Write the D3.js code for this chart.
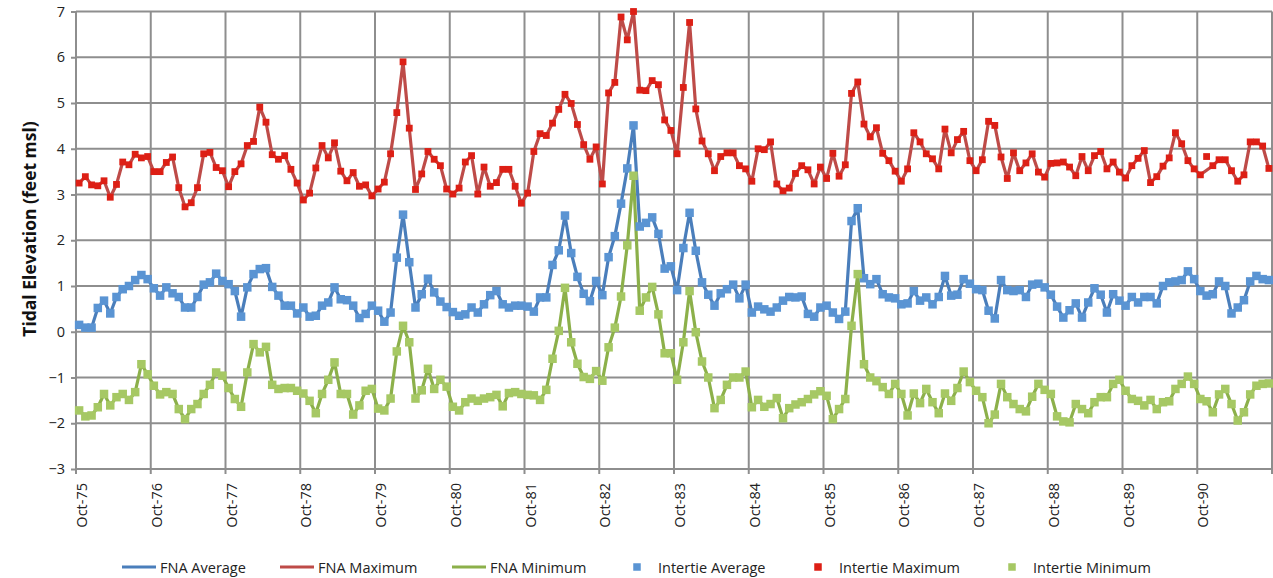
<!DOCTYPE html>
<html>
<head>
<meta charset="utf-8">
<script src="https://cdn.jsdelivr.net/npm/d3@7"></script>
<style>
  html, body { margin: 0; padding: 0; background: #fff; }
  svg { display: block; font-family: "Open Sans", "DejaVu Sans", sans-serif; }
</style>
</head>
<body>
<svg id="chart" width="1273" height="578"></svg>
<script>
// Monthly categories, Oct 1975 through Sep 1991
const months = d3.timeMonth.range(new Date(1975, 9, 1), new Date(1991, 9, 1));
const tickLabels = ["Oct-75","Oct-76","Oct-77","Oct-78","Oct-79","Oct-80","Oct-81","Oct-82",
                    "Oct-83","Oct-84","Oct-85","Oct-86","Oct-87","Oct-88","Oct-89","Oct-90"];
const yTicks = [-3, -2, -1, 0, 1, 2, 3, 4, 5, 6, 7];

// Monthly tidal elevations, feet msl
const fnaMaximum = [
  3.25,3.39,3.21,3.19,3.30,2.94,3.22,3.71,3.65,3.88,3.80,3.83,
  3.50,3.50,3.70,3.82,3.15,2.73,2.82,3.15,3.89,3.92,3.59,3.52,
  3.17,3.50,3.67,4.07,4.16,4.91,4.58,3.87,3.77,3.85,3.55,3.25,
  2.88,3.03,3.58,4.07,3.80,4.13,3.51,3.30,3.48,3.18,3.21,2.97,
  3.12,3.27,3.89,4.79,5.90,4.45,3.11,3.45,3.94,3.77,3.63,3.12,
  3.01,3.14,3.71,3.85,3.01,3.60,3.18,3.26,3.55,3.55,3.18,2.81,
  3.03,3.94,4.33,4.29,4.56,4.86,5.19,4.99,4.53,4.09,3.77,4.04,
  3.23,5.22,5.45,6.88,6.38,7.00,5.28,5.27,5.49,5.40,4.63,4.40,
  3.89,5.34,6.76,4.87,4.17,3.89,3.52,3.83,3.91,3.91,3.63,3.56,
  3.29,4.00,3.98,4.15,3.23,3.08,3.14,3.46,3.63,3.54,3.23,3.60,
  3.35,3.90,3.40,3.65,5.21,5.46,4.54,4.26,4.46,3.90,3.74,3.51,
  3.29,3.56,4.35,4.15,3.89,3.78,3.56,4.43,3.91,4.20,4.38,3.74,
  3.52,3.76,4.60,4.51,3.82,3.35,3.91,3.52,3.69,3.89,3.49,3.38,
  3.68,3.69,3.71,3.60,3.41,3.83,3.52,3.85,3.94,3.56,3.71,3.49,
  3.36,3.63,3.79,3.96,3.26,3.39,3.62,3.80,4.35,4.11,3.74,3.56,
  3.43,3.53,3.63,3.76,3.76,3.52,3.29,3.43,4.15,4.15,4.06,3.57
];
const fnaAverage = [
  0.15,0.09,0.09,0.52,0.68,0.40,0.76,0.93,1.00,1.13,1.24,1.15,
  0.95,0.79,0.97,0.84,0.76,0.53,0.53,0.76,1.03,1.08,1.27,1.11,
  1.04,0.89,0.33,0.97,1.26,1.37,1.39,0.98,0.79,0.57,0.57,0.40,
  0.53,0.33,0.35,0.57,0.64,0.97,0.71,0.69,0.57,0.30,0.39,0.57,
  0.46,0.22,0.42,1.62,2.56,1.52,0.53,0.82,1.16,0.86,0.66,0.54,
  0.43,0.35,0.38,0.53,0.42,0.60,0.80,0.89,0.60,0.53,0.57,0.57,
  0.55,0.44,0.75,0.75,1.46,1.78,2.54,1.72,1.20,0.83,0.67,1.11,
  0.80,1.63,2.09,2.80,3.57,4.51,2.30,2.38,2.50,2.14,1.38,1.43,
  0.91,1.83,2.60,1.77,1.08,0.81,0.57,0.84,0.93,1.03,0.73,1.03,
  0.42,0.55,0.49,0.44,0.53,0.68,0.76,0.75,0.77,0.39,0.33,0.53,
  0.57,0.42,0.28,0.44,2.42,2.70,1.17,1.04,1.15,0.82,0.75,0.73,
  0.60,0.62,0.89,0.68,0.75,0.60,0.76,1.22,0.79,0.81,1.15,1.05,
  0.93,0.91,0.46,0.29,1.13,0.91,0.89,0.91,0.76,1.03,1.05,0.97,
  0.81,0.55,0.31,0.47,0.62,0.31,0.64,0.95,0.81,0.42,0.82,0.68,
  0.57,0.76,0.64,0.76,0.76,0.62,1.00,1.08,1.10,1.13,1.32,1.15,
  0.89,0.79,0.82,1.10,1.00,0.40,0.53,0.69,1.10,1.22,1.15,1.13
];
const fnaMinimum = [
  -1.72,-1.85,-1.83,-1.65,-1.36,-1.61,-1.43,-1.36,-1.49,-1.32,-0.71,-0.93,
  -1.18,-1.37,-1.32,-1.36,-1.69,-1.91,-1.69,-1.58,-1.36,-1.16,-0.89,-0.96,
  -1.23,-1.47,-1.64,-0.89,-0.27,-0.45,-0.33,-1.16,-1.25,-1.23,-1.23,-1.29,
  -1.35,-1.51,-1.78,-1.36,-1.05,-0.67,-1.36,-1.36,-1.81,-1.61,-1.29,-1.25,
  -1.68,-1.72,-1.46,-0.43,0.13,-0.23,-1.46,-1.28,-0.81,-1.25,-1.05,-1.20,
  -1.64,-1.72,-1.54,-1.46,-1.51,-1.46,-1.43,-1.38,-1.63,-1.34,-1.32,-1.36,
  -1.38,-1.39,-1.49,-1.27,-0.59,0.02,0.96,-0.23,-0.70,-0.99,-1.03,-0.86,
  -1.07,-0.34,0.09,0.77,1.89,3.41,0.46,0.75,0.98,0.38,-0.47,-0.47,
  -1.05,-0.23,0.89,-0.01,-0.65,-1.00,-1.67,-1.49,-1.16,-1.00,-1.00,-0.87,
  -1.65,-1.49,-1.64,-1.58,-1.45,-1.89,-1.67,-1.59,-1.54,-1.47,-1.37,-1.30,
  -1.40,-1.91,-1.69,-1.47,0.13,1.26,-0.71,-1.00,-1.08,-1.21,-1.36,-1.14,
  -1.36,-1.83,-1.35,-1.56,-1.25,-1.54,-1.78,-1.35,-1.51,-1.23,-0.87,-1.10,
  -1.29,-1.43,-2.00,-1.81,-1.14,-1.43,-1.58,-1.69,-1.74,-1.42,-1.14,-1.27,
  -1.36,-1.85,-1.96,-1.98,-1.58,-1.69,-1.78,-1.54,-1.43,-1.43,-1.14,-1.05,
  -1.29,-1.47,-1.51,-1.61,-1.49,-1.69,-1.54,-1.52,-1.25,-1.14,-0.98,-1.14,
  -1.47,-1.52,-1.76,-1.37,-1.25,-1.58,-1.94,-1.76,-1.37,-1.18,-1.14,-1.13
];

// Intertie gauge record: same months; it differs from FNA only in the Nov-90 maximum
const intertieAverage = fnaAverage;
const intertieMinimum = fnaMinimum;
const intertieMaximumNov90 = 3.83;
const intertieMaximum = fnaMaximum.map((v, i) => (i === 181 ? intertieMaximumNov90 : v));

const svg = d3.select("#chart");
const margin = { left: 76, right: 1272, top: 11.5, bottom: 469 };

const x = d3.scaleLinear().domain([0, months.length]).range([margin.left, margin.right]);
const y = d3.scaleLinear().domain([-3, 7]).range([margin.bottom, margin.top]);
const cx = i => x(i + 0.5);

const gridColor = "#8e8e8e";

// Horizontal gridlines + y axis
const yAxis = d3.axisLeft(y).tickValues(yTicks).tickSize(5).tickPadding(6).tickFormat(d3.format("d"));
const gy = svg.append("g").attr("transform", `translate(${margin.left},0)`).call(yAxis);
gy.select(".domain").remove();
gy.selectAll(".tick line").attr("stroke", gridColor).attr("stroke-width", 2);
gy.selectAll(".tick text").attr("font-size", 14.5).attr("fill", "#222")
  .attr("font-family", "'Open Sans', sans-serif");

svg.append("g").selectAll("line").data(yTicks).join("line")
  .attr("x1", margin.left).attr("x2", margin.right)
  .attr("y1", d => y(d)).attr("y2", d => y(d))
  .attr("stroke", gridColor).attr("stroke-width", 2);

// Vertical gridlines every October
const yearIdx = d3.range(0, months.length + 1, 12);
svg.append("g").selectAll("line").data(yearIdx).join("line")
  .attr("x1", d => x(d)).attr("x2", d => x(d))
  .attr("y1", margin.top).attr("y2", margin.bottom + 5)
  .attr("stroke", gridColor).attr("stroke-width", 2);

// X tick labels, rotated
const xAxis = d3.axisBottom(x).tickValues(yearIdx.slice(0, tickLabels.length))
  .tickSize(0).tickFormat((d, i) => tickLabels[i]);
const gx = svg.append("g").attr("transform", `translate(0,${margin.bottom})`).call(xAxis);
gx.select(".domain").remove();
gx.selectAll(".tick text")
  .attr("font-size", 14.5).attr("fill", "#222")
  .attr("font-family", "'Open Sans', sans-serif")
  .attr("text-anchor", "end")
  .attr("dy", null).attr("y", null)
  .attr("dominant-baseline", "central")
  .attr("transform", "translate(5,14) rotate(-90)");

// Y axis title
svg.append("text")
  .attr("transform", "translate(29,229) rotate(-90)")
  .attr("text-anchor", "middle")
  .attr("dominant-baseline", "central")
  .attr("font-size", 17.5).attr("font-weight", "bold").attr("fill", "#111")
  .text("Tidal Elevation (feet msl)");

const series = [
  { name: "FNA Average", values: fnaAverage, color: "#4a7ebb" },
  { name: "FNA Maximum", values: fnaMaximum, color: "#be4b48" },
  { name: "FNA Minimum", values: fnaMinimum, color: "#8cb04a" }
];
const markers = [
  { name: "Intertie Average", values: intertieAverage, color: "#5a94d3", size: 8.5 },
  { name: "Intertie Maximum", values: intertieMaximum, color: "#dd1f15", size: 6.8 },
  { name: "Intertie Minimum", values: intertieMinimum, color: "#a6c864", size: 8.5 }
];

const line = d3.line().x((d, i) => cx(i)).y(d => y(d));

svg.append("g").selectAll("path").data(series).join("path")
  .attr("d", s => line(s.values))
  .attr("fill", "none").attr("stroke", s => s.color)
  .attr("stroke-width", 3.2).attr("stroke-linejoin", "round").attr("stroke-linecap", "round");

markers.forEach(m => {
  svg.append("g").selectAll("rect").data(m.values).join("rect")
    .attr("x", (d, i) => cx(i) - m.size / 2)
    .attr("y", d => y(d) - m.size / 2)
    .attr("width", m.size).attr("height", m.size)
    .attr("fill", m.color);
});

// Legend
const legendY = 567;
const legendItems = [
  { type: "line", s: series[0], x: 122, tx: 160 },
  { type: "line", s: series[1], x: 280, tx: 318 },
  { type: "line", s: series[2], x: 452, tx: 490 },
  { type: "mark", s: markers[0], x: 637, tx: 658 },
  { type: "mark", s: markers[1], x: 818, tx: 839 },
  { type: "mark", s: markers[2], x: 1012, tx: 1033 }
];
const lg = svg.append("g");
legendItems.forEach(it => {
  if (it.type === "line") {
    lg.append("line").attr("x1", it.x).attr("x2", it.x + 34)
      .attr("y1", legendY).attr("y2", legendY)
      .attr("stroke", it.s.color).attr("stroke-width", 3.2);
  } else {
    const sz = 7.5;
    lg.append("rect").attr("x", it.x - sz / 2).attr("y", legendY - sz / 2)
      .attr("width", sz).attr("height", sz).attr("fill", it.s.color);
  }
  lg.append("text").attr("x", it.tx).attr("y", legendY)
    .attr("dominant-baseline", "central")
    .attr("font-size", 14.5).attr("fill", "#222")
    .text(it.s.name);
});
</script>
</body>
</html>
